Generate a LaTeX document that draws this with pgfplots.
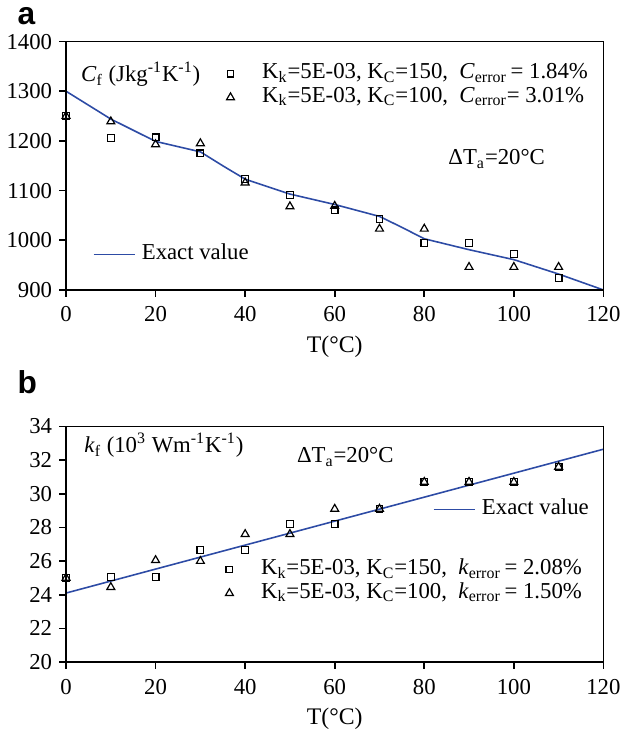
\documentclass[border=0pt]{standalone}
\usepackage{fontspec}
\setmainfont{Liberation Serif}
\newfontfamily\panelfont{Liberation Sans}
\usepackage{pgfplots}
\pgfplotsset{compat=1.18}
\definecolor{exactblue}{RGB}{45,75,165}

\tikzset{
  txt/.style={font=\fontsize{11.5}{12}\selectfont, inner sep=0pt},
  leg/.style={draw=none, fill=none, inner sep=0pt, font=\fontsize{11.5}{12}\selectfont,
    nodes={inner sep=1pt, text height=7.5pt, text depth=2.5pt}},
}
\pgfplotsset{
  panel/.style={
    scale only axis, width=271.5pt,
    xmin=0, xmax=120, xtick={0,20,...,120},
    axis line style={line width=0.8pt},
    tick align=outside, xtick pos=bottom, ytick pos=left,
    major tick length=3.5pt, tick style={line width=0.8pt, black},
    ticklabel style={font=\fontsize{11.5}{12}\selectfont},
    xticklabel style={yshift=-1.5pt},
    /pgf/number format/assume math mode=true,
    /pgf/number format/set thousands separator={},
    xlabel={T(°C)}, xlabel style={font=\fontsize{12}{12}\selectfont},
    clip=false,
  },
  ghost/.style={
    scale only axis, width=271.5pt, xmin=0, xmax=120, hide axis, clip=false,
    legend image code/.code={\draw[##1] (0pt,0pt) -- (21pt,0pt);},
  },
  sq/.style={only marks, mark=square, mark options={black, line width=0.6pt, fill=none}, mark size=1.7pt},
  tri/.style={only marks, mark=triangle, mark options={black, line width=0.6pt, fill=none}, mark size=2.3pt},
}

\begin{document}
\begin{tikzpicture}
\path (0,0) rectangle (312pt,368pt);

% ---- panel a ----
\begin{axis}[ghost, at={(31pt,221.5pt)}, anchor=south west, height=125.5pt,
  ymin=900, ymax=1400,
  legend style={leg, column sep=2pt, at={(rel axis cs:0.049,0.143)}, anchor=west}]
\addplot[exactblue, line width=0.8pt] coordinates {
  (0,1300) (10,1244) (20,1199) (30,1178) (35,1150) (40,1123) (50,1093)
  (60,1072) (70,1048) (75,1026) (80,1003) (90,981) (100,961) (110,932) (120,900)};
\addlegendentry{Exact value}
\end{axis}

\begin{axis}[panel, at={(31pt,221.5pt)}, anchor=south west, height=125.5pt,
  ymin=900, ymax=1400, ytick={900,1000,...,1400},
  legend style={leg, column sep=13pt, at={(rel axis cs:0.298,0.92)}, anchor=north west},
  legend cell align=left,
  legend image code/.code={\draw[#1] plot coordinates {(0pt,0pt)};}]
\addplot[sq] coordinates {
  (0,1250) (10,1206) (20,1207) (30,1175) (40,1123) (50,1091)
  (60,1060) (70,1043) (80,994) (90,994) (100,972) (110,924)};
\addlegendentry{K\textsubscript{k}=5E-03, K\textsubscript{C}=150,\ \ \textit{C}\textsubscript{error}\,= 1.84\%}
\addplot[tri] coordinates {
  (0,1250) (10,1239) (20,1193) (30,1195) (40,1116) (50,1068)
  (60,1069) (70,1023) (80,1023) (90,946) (100,946) (110,946)};
\addlegendentry{K\textsubscript{k}=5E-03, K\textsubscript{C}=100,\ \ \textit{C}\textsubscript{error}= 3.01\%}
\node[txt, anchor=west] at (axis cs:3.3,1334) {\textit{C}\textsubscript{f} (Jkg\textsuperscript{-1}K\textsuperscript{-1})};
\node[txt, anchor=west] at (axis cs:85.3,1163) {ΔT\textsubscript{a}=20°C};
\end{axis}

% ---- panel b ----
\begin{axis}[ghost, at={(31pt,33.5pt)}, anchor=south west, height=119pt,
  ymin=20, ymax=34,
  legend style={leg, column sep=2pt, at={(rel axis cs:0.682,0.647)}, anchor=west}]
\addplot[exactblue, line width=0.8pt] coordinates {(0,24.1) (120,32.65)};
\addlegendentry{Exact value}
\end{axis}

\begin{axis}[panel, at={(31pt,33.5pt)}, anchor=south west, height=119pt,
  ymin=20, ymax=34, ytick={20,22,...,34},
  legend style={leg, column sep=13pt, at={(rel axis cs:0.296,0.445)}, anchor=north west},
  legend cell align=left,
  legend image code/.code={\draw[#1] plot coordinates {(0pt,0pt)};}]
\addplot[sq] coordinates {
  (0,25.0) (10,25.05) (20,25.06) (30,26.65) (40,26.65) (50,28.2)
  (60,28.2) (70,29.1) (80,30.7) (90,30.7) (100,30.7) (110,31.6)};
\addlegendentry{K\textsubscript{k}=5E-03, K\textsubscript{C}=150,\ \ \textit{k}\textsubscript{error}\,= 2.08\%}
\addplot[tri] coordinates {
  (0,25.0) (10,24.45) (20,26.05) (30,26.0) (40,27.6) (50,27.6)
  (60,29.1) (70,29.1) (80,30.7) (90,30.7) (100,30.7) (110,31.6)};
\addlegendentry{K\textsubscript{k}=5E-03, K\textsubscript{C}=100,\ \ \textit{k}\textsubscript{error}\,= 1.50\%}
\node[txt, anchor=west] at (axis cs:4.0,32.88) {\textit{k}\textsubscript{f} (10\textsuperscript{3} Wm\textsuperscript{-1}K\textsuperscript{-1})};
\node[txt, anchor=west] at (axis cs:51.5,32.18) {ΔT\textsubscript{a}=20°C};
\end{axis}

\node[anchor=base west, font=\panelfont\bfseries\fontsize{16}{16}\selectfont] at (3pt,355.5pt) {a};
\node[anchor=base west, font=\panelfont\bfseries\fontsize{16}{16}\selectfont] at (3pt,169pt) {b};
\end{tikzpicture}
\end{document}
